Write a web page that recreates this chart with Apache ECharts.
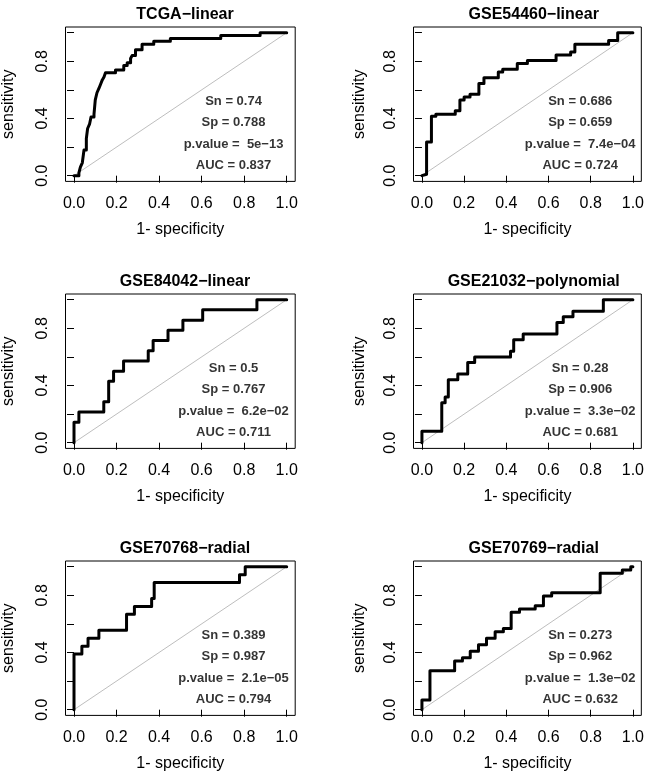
<!DOCTYPE html>
<html>
<head>
<meta charset="utf-8">
<script src="https://cdn.jsdelivr.net/npm/echarts@6/dist/echarts.min.js"></script>
<style>
html,body{margin:0;padding:0;background:#fff;}
#chart{width:647px;height:776px;}
</style>
</head>
<body>
<div id="chart"></div>
<script>
// ---------- data ----------
const panelTitles = ['TCGA\u2212linear','GSE54460\u2212linear','GSE84042\u2212linear','GSE21032\u2212polynomial','GSE70768\u2212radial','GSE70769\u2212radial'];
const snValues  = ['0.74','0.686','0.5','0.28','0.389','0.273'];
const spValues  = ['0.788','0.659','0.767','0.906','0.987','0.962'];
const pValues   = ['5e\u221213','7.4e\u221204','6.2e\u221202','3.3e\u221202','2.1e\u221205','1.3e\u221202'];
const aucValues = ['0.837','0.724','0.711','0.681','0.794','0.632'];
const axisTickValues = [0, 0.2, 0.4, 0.6, 0.8, 1.0];
const xTickLabels = [0, 0.2, 0.4, 0.6, 0.8, 1.0];
const yTickLabels = [0, 0.4, 0.8];
const diagX = [0, 1];
const diagY = [0, 1];

// ROC step points (1 - specificity, sensitivity)
const tcgaFPR = [0,0.023,0.03,0.039,0.047,0.058,0.064,0.073,0.08,0.094,0.1,0.108,0.117,0.125,0.133,0.141,0.148,0.195,0.234,0.25,0.266,0.273,0.289,0.32,0.375,0.453,0.69,0.875,1];
const tcgaTPR = [0,0.02,0.06,0.09,0.18,0.26,0.33,0.36,0.41,0.43,0.53,0.58,0.61,0.64,0.67,0.69,0.72,0.74,0.77,0.79,0.82,0.84,0.88,0.92,0.94,0.96,0.98,1,1];

const gse54460FPR = [0,0,0.022,0.045,0.066,0.158,0.18,0.2,0.228,0.27,0.294,0.362,0.383,0.452,0.5,0.636,0.705,0.725,0.885,0.928,1];
const gse54460TPR = [0,0.01,0.235,0.415,0.43,0.455,0.53,0.55,0.57,0.645,0.685,0.725,0.745,0.785,0.805,0.845,0.865,0.92,0.945,1,1];

const gse84042FPR = [0,0,0.023,0.14,0.163,0.186,0.233,0.349,0.372,0.442,0.512,0.605,0.86,1];
const gse84042TPR = [0,0.143,0.214,0.286,0.429,0.5,0.571,0.643,0.714,0.786,0.857,0.929,1,1];

const gse21032FPR = [0,0,0.094,0.11,0.125,0.17,0.217,0.25,0.42,0.435,0.48,0.64,0.67,0.716,0.86,1];
const gse21032TPR = [0,0.08,0.28,0.32,0.44,0.48,0.56,0.6,0.64,0.72,0.76,0.84,0.88,0.92,1,1];

const gse70768FPR = [0,0,0.037,0.066,0.117,0.247,0.284,0.365,0.377,0.778,0.805,1];
const gse70768TPR = [0,0.389,0.444,0.5,0.556,0.667,0.722,0.778,0.889,0.944,1,1];

const gse70769FPR = [0,0,0.038,0.155,0.192,0.229,0.268,0.306,0.347,0.386,0.423,0.4625,0.537,0.576,0.615,0.845,0.95,0.99,1];
const gse70769TPR = [0,0.068,0.273,0.341,0.364,0.409,0.455,0.5,0.545,0.568,0.682,0.705,0.727,0.795,0.818,0.955,0.977,1,1];

const rocFPR = [tcgaFPR, gse54460FPR, gse84042FPR, gse21032FPR, gse70768FPR, gse70769FPR];
const rocTPR = [tcgaTPR, gse54460TPR, gse84042TPR, gse21032TPR, gse70768TPR, gse70769TPR];

// annotation anchor (data coordinates)
const annotX = 0.75;
const annotY = [0.52, 0.37, 0.22, 0.07];

// ---------- layout ----------
const FONT = '"Liberation Sans", Arial, Helvetica, sans-serif';
const colLeft = [64.8, 413.5];
const boxW = 230.4;
const rowTop = [27, 294, 561];
const boxH = 154.4;
const yNameGap = [48.5, 46];

const grids = [], xAxes = [], yAxes = [], series = [], titles = [];
for (let i = 0; i < 6; i++) {
  const c = i % 2, r = Math.floor(i / 2);
  grids.push({
    left: colLeft[c], top: rowTop[r], width: boxW, height: boxH,
    show: true, borderColor: '#000', borderWidth: 1, backgroundColor: 'transparent',
    containLabel: false
  });
  titles.push({
    text: panelTitles[i], left: colLeft[c] + boxW / 2, top: rowTop[r] - 25, textAlign: 'center',
    textStyle: { fontFamily: FONT, fontSize: 16, fontWeight: 'bold', color: '#000' }
  });
  xAxes.push({
    type: 'value', gridIndex: i, min: -0.04, max: 1.04,
    name: '1- specificity', nameLocation: 'middle', nameGap: 40.5,
    nameTextStyle: { fontFamily: FONT, fontSize: 16, color: '#000' },
    axisLine: { show: false },
    splitLine: { show: false },
    axisTick: { show: true, inside: false, length: 7, customValues: axisTickValues, lineStyle: { color: '#000', width: 1 } },
    axisLabel: { show: true, margin: 14, customValues: xTickLabels, fontFamily: FONT, fontSize: 16, color: '#000',
      formatter: v => Number(v).toFixed(1) }
  });
  yAxes.push({
    type: 'value', gridIndex: i, min: -0.04, max: 1.04,
    name: 'sensitivity', nameLocation: 'middle', nameGap: yNameGap[c], nameRotate: 90,
    nameTextStyle: { fontFamily: FONT, fontSize: 16, color: '#000' },
    axisLine: { show: false },
    splitLine: { show: false },
    axisTick: { show: true, inside: false, length: 7, customValues: axisTickValues, lineStyle: { color: '#000', width: 1 } },
    axisLabel: { show: true, margin: 15, rotate: 90, customValues: yTickLabels, fontFamily: FONT, fontSize: 16, color: '#000',
      formatter: v => Number(v).toFixed(1) }
  });
  series.push({
    type: 'line', xAxisIndex: i, yAxisIndex: i, silent: true,
    data: diagX.map((x, k) => [x, diagY[k]]),
    symbol: 'none', showSymbol: false,
    lineStyle: { color: '#bebebe', width: 1 }, z: 2
  });
  series.push({
    type: 'line', xAxisIndex: i, yAxisIndex: i, silent: true,
    data: rocFPR[i].map((x, k) => [x, rocTPR[i][k]]),
    step: 'end', symbol: 'none', showSymbol: false,
    lineStyle: { color: '#000', width: 3, join: 'round', cap: 'round' }, z: 3
  });
  const texts = ['Sn = ' + snValues[i], 'Sp = ' + spValues[i], 'p.value =  ' + pValues[i], 'AUC = ' + aucValues[i]];
  series.push({
    type: 'scatter', xAxisIndex: i, yAxisIndex: i, silent: true,
    symbolSize: 1, itemStyle: { color: 'rgba(0,0,0,0)' },
    data: texts.map((t, k) => [annotX, annotY[k], t]),
    label: { show: true, position: 'inside', formatter: p => p.data[2],
      fontFamily: FONT, fontSize: 13, fontWeight: 'bold', color: '#000' },
    z: 4
  });
}
// title tops: centre ~17px above box top
titles.forEach((t, i) => { t.top = rowTop[Math.floor(i / 2)] - 25; });

const chart = echarts.init(document.getElementById('chart'), null, { renderer: 'canvas' });
chart.setOption({
  animation: false,
  backgroundColor: '#fff',
  title: titles,
  grid: grids,
  xAxis: xAxes,
  yAxis: yAxes,
  series: series
});
</script>
</body>
</html>
